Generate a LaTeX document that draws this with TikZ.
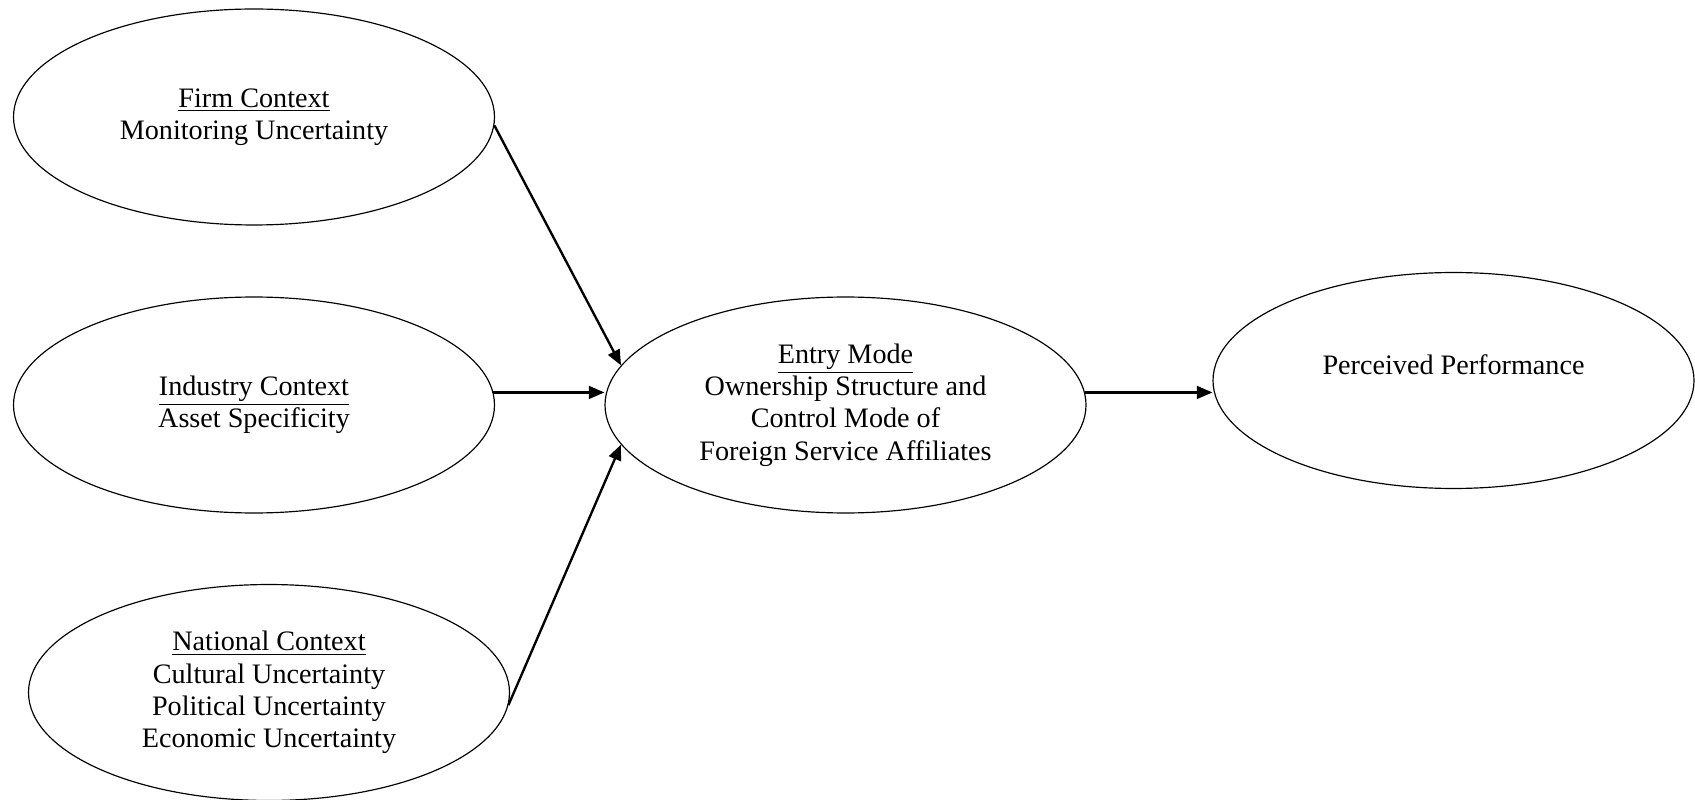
\documentclass[tikz,border=0pt]{standalone}
\usepackage{fontspec}
\setmainfont{Liberation Serif}
\usetikzlibrary{shapes.geometric,arrows.meta}
\begin{document}
\begin{tikzpicture}[x=0.426pt,y=-0.426pt,
  oval/.style={draw,line width=0.5pt,ellipse,inner sep=0pt,minimum width=204.9pt,minimum height=92pt,
    align=center,font=\fontsize{12}{13.8}\selectfont},
  conn/.style={line width=1pt,-{Triangle[length=6.6pt,width=5.4pt]}}]
\useasboundingbox (0,0) rectangle (1695,800);
\node[oval] (firm) at (254,117) {\underline{Firm Context}\\Monitoring Uncertainty};
\node[oval] (ind) at (254,405) {\underline{Industry Context}\\Asset Specificity};
\node[oval] (nat) at (269,692.5) {\underline{National Context}\\Cultural Uncertainty\\Political Uncertainty\\Economic Uncertainty};
\node[oval] (entry) at (845.5,405) {\underline{Entry Mode}\\Ownership Structure and\\Control Mode of\\Foreign Service Affiliates};
\node[oval] (perf) at (1453.5,380.5) {Perceived Performance\\\mbox{}};
\draw[conn] (firm.-2.5) -- (entry.170.5);
\draw[conn] (ind.3) -- (ind.3 -| entry.west);
\draw[conn] (nat.-3) -- (entry.-170.3);
\draw[conn] (entry.3) -- (entry.3 -| perf.west);
\end{tikzpicture}
\end{document}
